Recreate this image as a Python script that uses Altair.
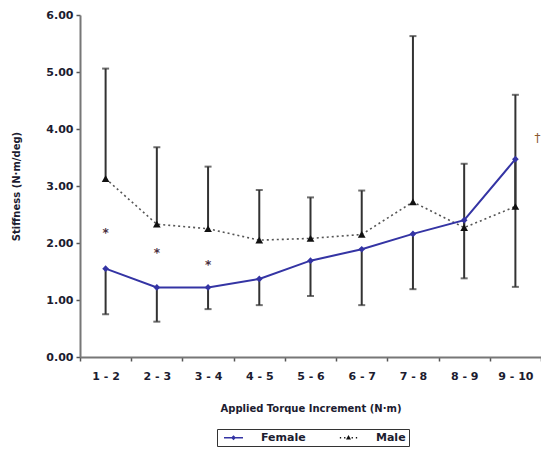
import altair as alt
import pandas as pd

categories = ["1 - 2", "2 - 3", "3 - 4", "4 - 5", "5 - 6", "6 - 7", "7 - 8", "8 - 9", "9 - 10"]
female = [1.55, 1.22, 1.22, 1.37, 1.69, 1.89, 2.16, 2.40, 3.47]
male = [3.13, 2.33, 2.25, 2.05, 2.08, 2.15, 2.72, 2.27, 2.64]
female_lower = [0.75, 0.62, 0.84, 0.91, 1.07, 0.91, 1.19, 1.38, 1.23]
male_upper = [5.06, 3.68, 3.34, 2.93, 2.80, 2.92, 5.63, 3.39, 4.60]
star_categories = ["1 - 2", "2 - 3", "3 - 4"]
star_values = [2.23, 1.88, 1.66]
dagger_categories = ["9 - 10"]
dagger_values = [3.84]
series_names = ["Female", "Male"]
y_ticks = [0, 1, 2, 3, 4, 5, 6]

FONT = "DejaVu Sans"
BLUE = "#3434a4"
BLACK = "#111111"
TEXT = "#1c1c30"
BAR = "#333333"

df = pd.DataFrame({"cat": categories, "female": female, "male": male,
                   "flo": female_lower, "mhi": male_upper})
long = pd.DataFrame({
    "cat": categories * 2,
    "series": ["Female"] * len(categories) + ["Male"] * len(categories),
    "value": female + male,
})
stars = pd.DataFrame({"cat": star_categories, "value": star_values, "txt": ["*"] * len(star_categories)})
dagger = pd.DataFrame({"cat": dagger_categories, "value": dagger_values, "txt": ["†"] * len(dagger_categories)})

xenc = alt.X(
    "cat:N", sort=categories,
    scale=alt.Scale(type="band", paddingInner=0, paddingOuter=0),
    axis=alt.Axis(title="Applied Torque Increment (N·m)", labelAngle=0, tickBand="extent",
                  labelFontSize=11, tickSize=4, labelPadding=9, titleFontSize=10, titlePadding=22),
)
yaxis = alt.Axis(values=y_ticks, format=".2f", title="Stiffness (N·m/deg)", labelFontSize=11,
                 tickSize=4, labelPadding=3, titleFontSize=10, titlePadding=24)
yscale = alt.Scale(domain=[0, 6], nice=False, zero=True)


def yenc(field):
    return alt.Y(field, type="quantitative", scale=yscale, axis=yaxis)


male_bar = alt.Chart(df).mark_rule(color=BAR, strokeWidth=2).encode(x=xenc, y=yenc("male"), y2="mhi")
female_bar = alt.Chart(df).mark_rule(color=BAR, strokeWidth=2).encode(x=xenc, y=yenc("flo"), y2="female")
cap_lo = alt.Chart(df).mark_tick(color=BAR, thickness=2, size=7).encode(x=xenc, y=yenc("flo"))
cap_hi = alt.Chart(df).mark_tick(color=BAR, thickness=2, size=7).encode(x=xenc, y=yenc("mhi"))

male_line = alt.Chart(long).transform_filter(alt.datum.series == "Male").mark_line(
    color="#555555", strokeDash=[2, 3], strokeWidth=1.6).encode(x=xenc, y=yenc("value"))
female_line = alt.Chart(long).transform_filter(alt.datum.series == "Female").mark_line(
    color=BLUE, strokeWidth=2).encode(x=xenc, y=yenc("value"))
male_pts = alt.Chart(long).transform_filter(alt.datum.series == "Male").mark_point(
    shape="triangle-up", filled=True, size=60, color=BLACK, opacity=1).encode(x=xenc, y=yenc("value"))
female_pts = alt.Chart(long).transform_filter(alt.datum.series == "Female").mark_point(
    shape="diamond", filled=True, size=45, color=BLUE, opacity=1).encode(x=xenc, y=yenc("value"))

star_text = alt.Chart(stars).mark_text(font=FONT, fontSize=12, fontWeight="bold", color="#4a3040",
                                       baseline="middle", dy=3).encode(x=xenc, y=yenc("value"), text="txt")
dagger_text = alt.Chart(dagger).mark_text(font=FONT, fontSize=12, color="#8a5a30", baseline="middle",
                                          dx=22).encode(x=xenc, y=yenc("value"), text="txt")

path_f = "M-1.9,-0.13H1.9V0.13H-1.9Z M0,-0.5L0.5,0L0,0.5L-0.5,0Z"
path_m = ("M-1.73,-0.13h0.26v0.26h-0.26Z M-0.88,-0.13h0.26v0.26h-0.26Z "
          "M0.62,-0.13h0.26v0.26h-0.26Z M1.47,-0.13h0.26v0.26h-0.26Z M0,-0.55L0.5,0.35L-0.5,0.35Z")

leg = alt.Legend(title=None, orient="none", legendX=137, legendY=414, direction="horizontal",
                 padding=3, strokeColor="#333333", labelFont=FONT, labelFontSize=11,
                 labelFontWeight="bold", labelColor=TEXT, symbolOpacity=1, symbolStrokeWidth=0,
                 symbolOffset=8, labelOffset=22, columnPadding=29)

legend_layer = alt.Chart(long).mark_point(filled=True, opacity=0, size=225).encode(
    x=xenc, y=yenc("value"),
    color=alt.Color("series:N", scale=alt.Scale(domain=series_names, range=[BLUE, BLACK]), legend=leg),
    shape=alt.Shape("series:N", scale=alt.Scale(domain=series_names, range=[path_f, path_m]), legend=leg),
)

chart = alt.layer(
    male_bar, female_bar, cap_lo, cap_hi, male_line, female_line, male_pts, female_pts,
    star_text, dagger_text, legend_layer
).properties(
    width=461, height=342,
    autosize=alt.AutoSizeParams(type="none"),
    padding={"left": 72, "top": 7, "right": 0, "bottom": 93},
).configure_axis(
    labelFont=FONT, titleFont=FONT, labelFontWeight="bold", titleFontWeight="bold",
    labelColor=TEXT, titleColor=TEXT, domainColor="#777777", domainWidth=2,
    tickColor="#555555", tickWidth=1.5, grid=False,
).configure_view(stroke=None)

chart.save("out.html", embed_options={"renderer": "svg", "actions": False})
